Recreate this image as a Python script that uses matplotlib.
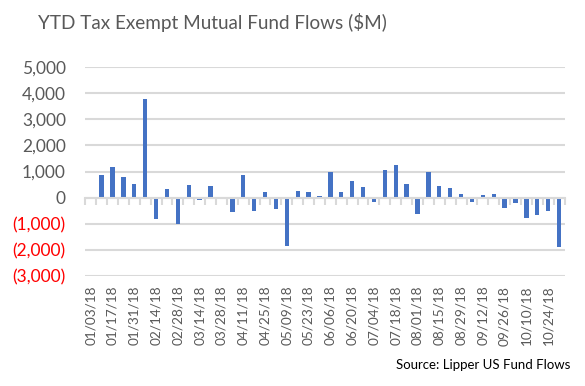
import matplotlib
matplotlib.use("Agg")
import matplotlib.pyplot as plt
from matplotlib.ticker import FuncFormatter

dates = ["01/03/18", "01/10/18", "01/17/18", "01/24/18", "01/31/18", "02/07/18", "02/14/18",
         "02/21/18", "02/28/18", "03/07/18", "03/14/18", "03/21/18", "03/28/18", "04/04/18",
         "04/11/18", "04/18/18", "04/25/18", "05/02/18", "05/09/18", "05/16/18", "05/23/18",
         "05/30/18", "06/06/18", "06/13/18", "06/20/18", "06/27/18", "07/04/18", "07/11/18",
         "07/18/18", "07/25/18", "08/01/18", "08/08/18", "08/15/18", "08/22/18", "08/29/18",
         "09/05/18", "09/12/18", "09/19/18", "09/26/18", "10/03/18", "10/10/18", "10/17/18",
         "10/24/18", "10/31/18"]
flows = [0, 870, 1180, 790, 520, 3790, -820, 320, -1000, 490, -100, 450, 0, -540,
         870, -500, 220, -420, -1850, 260, 220, 60, 1000, 220, 640, 410, -150, 1060,
         1260, 530, -620, 990, 450, 370, 140, -150, 100, 140, -380, -190, -770, -650,
         -500, -1880]
y_ticks = [-3000, -2000, -1000, 0, 1000, 2000, 3000, 4000, 5000]

FONT = "Lato"
GRID = "#d9d9d9"
TXT = "#595959"
BAR = "#4472C4"

fig = plt.figure(figsize=(5.85, 3.86), dpi=100)
ax = fig.add_axes([0.1458, 0.285, 0.8192, 0.541])

x = list(range(len(flows)))
ax.bar(x, flows, width=0.4, color=BAR, zorder=2)

ax.set_xlim(-0.5, len(flows) - 0.5)
ax.set_ylim(y_ticks[0], y_ticks[-1])
ax.set_yticks(y_ticks)

def yfmt(v, pos):
    if v < 0:
        return "({:,.0f})".format(-v)
    return "{:,.0f}".format(v)

ax.yaxis.set_major_formatter(FuncFormatter(yfmt))
ax.tick_params(axis="y", length=0, pad=14, labelsize=12.5, labelcolor=TXT)
for lab, v in zip(ax.get_yticklabels(), y_ticks):
    lab.set_fontfamily(FONT)
    if v < 0:
        lab.set_color("#ff0000")

ax.yaxis.grid(True, color=GRID, linewidth=1.5, zorder=0)
ax.set_axisbelow(True)

for s in ["left", "right", "top"]:
    ax.spines[s].set_visible(False)
ax.spines["bottom"].set_position(("data", 0))
ax.spines["bottom"].set_color(GRID)
ax.spines["bottom"].set_linewidth(1.5)
ax.spines["bottom"].set_zorder(3)

bounds = [i - 0.5 for i in range(len(flows) + 1)]
ax.set_xticks(bounds)
ax.set_xticklabels([])
ax.tick_params(axis="x", direction="out", length=5, width=1.5, color=GRID)

sec = ax.secondary_xaxis("bottom")
sec.set_xticks(x[::2])
sec.set_xticklabels(dates[::2], rotation=90, fontsize=9.8, color=TXT, fontfamily=FONT)
sec.tick_params(length=0, pad=7)
sec.spines["bottom"].set_visible(False)

fig.text(38 / 585, 1 - 22 / 386, "YTD Tax Exempt Mutual Fund Flows ($M)", fontsize=13.6,
         color=TXT, fontfamily=FONT, ha="left", va="center")
fig.text(570 / 585, 1 - 365 / 386, "Source: Lipper US Fund Flows", fontsize=9.5,
         color="black", fontfamily=FONT, ha="right", va="center")

fig.savefig("out.png", dpi=100)
